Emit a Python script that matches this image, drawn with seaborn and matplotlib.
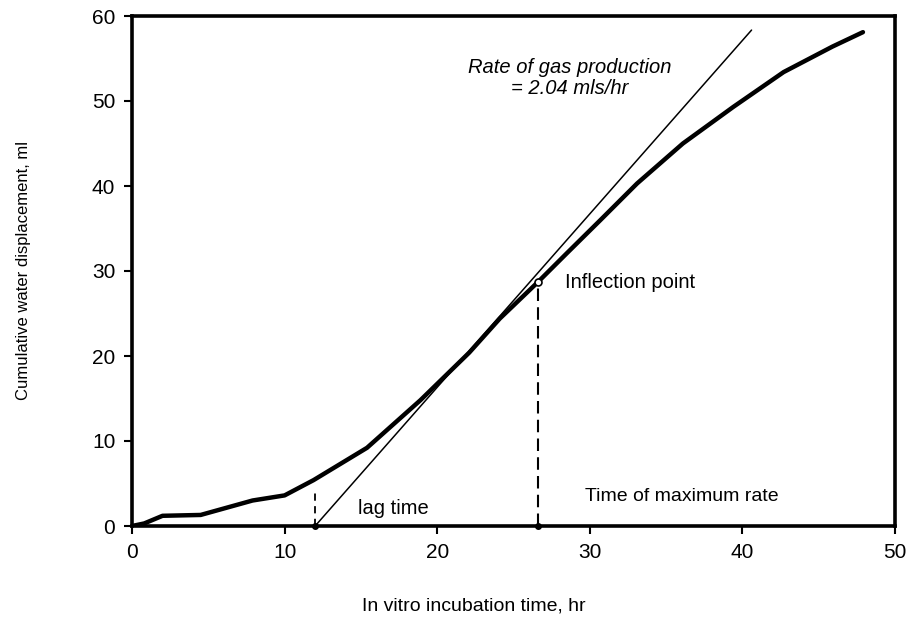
import numpy as np
import pandas as pd
import matplotlib
matplotlib.use("Agg")
import matplotlib.pyplot as plt
import seaborn as sns

# gas production curve
hours = [0.0, 0.8, 2.0, 4.5, 7.9, 10.0, 11.9, 15.4, 18.9, 22.1, 24.1, 26.6,
         28.5, 30.7, 33.1, 36.1, 39.4, 42.7, 45.9, 47.9]
displacement = [0.0, 0.3, 1.2, 1.3, 3.0, 3.6, 5.4, 9.2, 14.8, 20.4, 24.4, 28.7,
                32.1, 36.0, 40.3, 45.0, 49.3, 53.4, 56.4, 58.1]

rate = 2.04          # mls/hr, slope of tangent
lag_time = 12.0      # hr
max_rate_time = 26.6 # hr
inflection_y = 28.7
tangent_end = 40.6
lag_dash_top = 4.2

x_ticks = [0, 10, 20, 30, 40, 50]
y_ticks = [0, 10, 20, 30, 40, 50, 60]

sns.set_theme(style="ticks", rc={"text.color": "black", "axes.labelcolor": "black",
                                 "xtick.color": "black", "ytick.color": "black"})
plt.rcParams["font.family"] = ["Liberation Sans", "DejaVu Sans"]

df = pd.DataFrame({"hours": hours, "displacement": displacement})

fig = plt.figure(figsize=(9.12, 6.3), dpi=100)
ax = fig.add_axes([132 / 912, 1 - 526 / 630, 763 / 912, 510 / 630])

sns.lineplot(data=df, x="hours", y="displacement", ax=ax, color="black",
             linewidth=3.2, sort=False, estimator=None)

# tangent at inflection point
tx = np.array([lag_time, tangent_end])
ax.plot(tx, rate * (tx - lag_time), color="black", linewidth=1.1)

# dashed verticals
ax.plot([lag_time, lag_time], [0, lag_dash_top], color="black", linewidth=1.3,
        linestyle=(0, (4, 3)))
ax.plot([max_rate_time, max_rate_time], [0, inflection_y - 0.5], color="black",
        linewidth=1.5, linestyle=(0, (6, 3)))

ax.plot([lag_time, max_rate_time], [0, 0], linestyle="none", marker="o",
        markersize=4, color="black", clip_on=False, zorder=5)
ax.plot([max_rate_time], [inflection_y], linestyle="none", marker="o",
        markersize=5, markerfacecolor="white", markeredgecolor="black",
        markeredgewidth=1.2, zorder=6)

ax.text(28.7, 53.9, "Rate of gas production", style="italic", fontsize=14.5,
        ha="center", va="center")
ax.text(28.7, 51.5, "= 2.04 mls/hr", style="italic", fontsize=14.5,
        ha="center", va="center")
ax.text(28.4, 28.6, "Inflection point", fontsize=14.5, ha="left", va="center")
ax.text(14.8, 2.0, "lag time", fontsize=14.5, ha="left", va="center")
ax.text(29.7, 3.5, "Time of maximum rate", fontsize=14, ha="left", va="center")

ax.set_xlim(0, 50)
ax.set_ylim(0, 60)
ax.set_xticks(x_ticks)
ax.set_yticks(y_ticks)
ax.tick_params(labelsize=15, width=1.5, length=6, direction="out", pad=6)

for side in ["left", "right", "top", "bottom"]:
    ax.spines[side].set_visible(True)
    ax.spines[side].set_linewidth(2.6)
    ax.spines[side].set_color("black")

ax.set_xlabel("In vitro incubation time, hr", fontsize=14)
ax.set_ylabel("Cumulative water displacement, ml", fontsize=12)
ax.xaxis.set_label_coords((474 - 132) / 763, -0.14)
ax.yaxis.set_label_coords(-0.133, 0.5)

fig.savefig("out.png", dpi=100)
